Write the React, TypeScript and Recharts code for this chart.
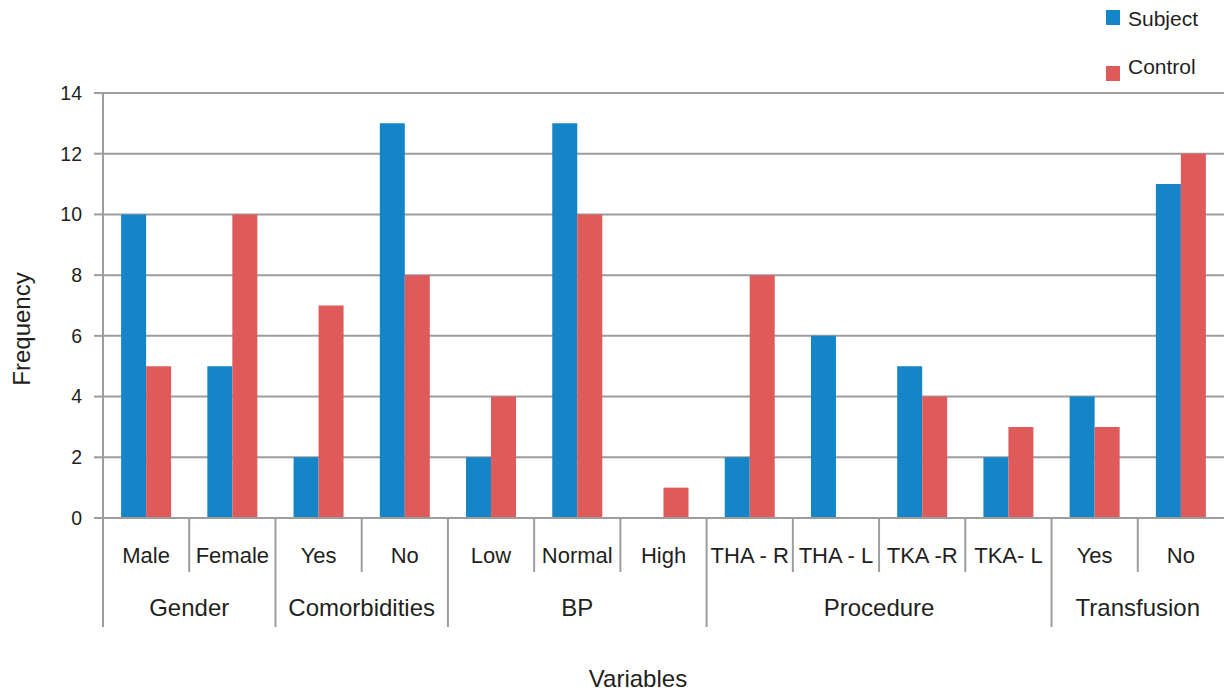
import { BarChart, Bar, XAxis, YAxis, CartesianGrid } from "recharts";

const categories = ["Male", "Female", "Yes", "No", "Low", "Normal", "High", "THA - R", "THA - L", "TKA -R", "TKA- L", "Yes", "No"];
const subject = [10, 5, 2, 13, 2, 13, 0, 2, 6, 5, 2, 4, 11];
const control = [5, 10, 7, 8, 4, 10, 1, 8, 0, 4, 3, 3, 12];
const groupNames = ["Gender", "Comorbidities", "BP", "Procedure", "Transfusion"];
const groupSizes = [2, 2, 3, 4, 2];
const yTicks = [0, 2, 4, 6, 8, 10, 12, 14];

const data = categories.map((c, i) => ({ key: i, name: c, subject: subject[i], control: control[i] }));

const W = 1224;
const H = 691;
const PLOT_LEFT = 103;
const PLOT_TOP = 93;
const PLOT_BOTTOM = 518;
const BAND = (W - PLOT_LEFT) / categories.length;
const FONT = "'Liberation Sans', Arial, Helvetica, sans-serif";
const TEXT = "#231f20";
const LINE = "#9d9d9d";
const BLUE = "#1485c6";
const RED = "#df5a5b";

// first index of each group
const groupStarts: number[] = [];
groupSizes.reduce((acc, n) => {
  groupStarts.push(acc);
  return acc + n;
}, 0);

function CategoryTick(props: any) {
  const { x, index } = props;
  const left = x - BAND / 2;
  const g = groupStarts.indexOf(index);
  const isStart = g >= 0;
  return (
    <g>
      <line x1={left} x2={left} y1={PLOT_BOTTOM} y2={isStart ? 627 : 572} stroke={LINE} strokeWidth={2} />
      <text x={x} y={563} textAnchor="middle" fontSize={22} fontFamily={FONT} fill={TEXT}>
        {categories[index]}
      </text>
      {isStart && (
        <text x={left + (groupSizes[g] * BAND) / 2} y={616} textAnchor="middle" fontSize={24} fontFamily={FONT} fill={TEXT}>
          {groupNames[g]}
        </text>
      )}
    </g>
  );
}

function LegendBox() {
  const items = [
    { label: "Subject", color: BLUE },
    { label: "Control", color: RED },
  ];
  return (
    <svg width={124} height={90} style={{ position: "absolute", left: 1100, top: 0 }}>
      {items.map((it, i) => (
        <g key={it.label}>
          <rect x={6} y={10 + i * 56} width={14} height={15} fill={it.color} />
          <text x={28} y={26 + i * 48} fontSize={21} fontFamily={FONT} fill={TEXT}>
            {it.label}
          </text>
        </g>
      ))}
    </svg>
  );
}

export default function App() {
  return (
    <div style={{ position: "absolute", left: 0, top: 0, width: W, height: H, background: "#fff" }}>
      <BarChart
        width={W}
        height={H}
        data={data}
        margin={{ top: PLOT_TOP, right: 0, bottom: 0, left: PLOT_LEFT - 60 }}
        barCategoryGap="21%"
        barGap={0}
      >
        <CartesianGrid vertical={false} stroke={LINE} strokeWidth={2} />
        <XAxis
          dataKey="key"
          height={H - PLOT_BOTTOM}
          axisLine={{ stroke: LINE, strokeWidth: 2 }}
          tickLine={false}
          interval={0}
          tick={<CategoryTick />}
          label={() => (
            <text x={638} y={687} textAnchor="middle" fontSize={24} fontFamily={FONT} fill={TEXT}>
              Variables
            </text>
          )}
        />
        <YAxis
          width={60}
          domain={[0, 14]}
          ticks={yTicks}
          axisLine={{ stroke: LINE, strokeWidth: 2 }}
          tickLine={{ stroke: LINE, strokeWidth: 2 }}
          tickSize={9}
          tickMargin={12}
          tick={{ fontSize: 19.5, fontFamily: FONT, fill: TEXT }}
          label={() => (
            <text x={30} y={329} textAnchor="middle" fontSize={24} fontFamily={FONT} fill={TEXT} transform="rotate(-90 30 329)">
              Frequency
            </text>
          )}
        />
        <Bar dataKey="subject" name="Subject" fill={BLUE} isAnimationActive={false} />
        <Bar dataKey="control" name="Control" fill={RED} isAnimationActive={false} />
      </BarChart>
      <LegendBox />
    </div>
  );
}
